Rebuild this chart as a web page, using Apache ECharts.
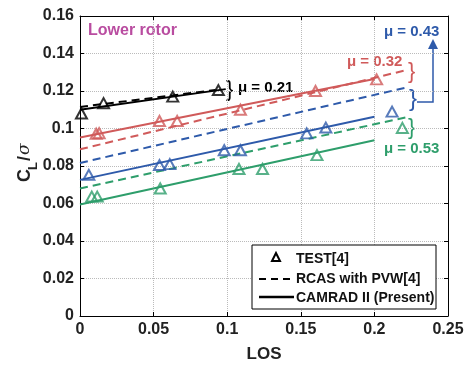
<!DOCTYPE html>
<html><head><meta charset="utf-8">
<script src="https://cdn.jsdelivr.net/npm/echarts@6/dist/echarts.min.js"></script>
<style>html,body{margin:0;padding:0;background:#fff}#c{width:467px;height:368px}</style>
</head><body><div id="c"></div>
<script>
// ---- data ----
const xTicks = [0, 0.05, 0.1, 0.15, 0.2, 0.25];
const yTicks = [0, 0.02, 0.04, 0.06, 0.08, 0.1, 0.12, 0.14, 0.16];

// mu = 0.21 (black)
const testK = [[0.001,0.108],[0.016,0.1135],[0.063,0.117],[0.094,0.1205]];
const rcasK = [[0,0.1115],[0.092,0.1205]];
const camK  = [[0,0.1100],[0.099,0.1210]];
// mu = 0.32 (red)
const testR = [[0.011,0.0972],[0.013,0.0975],[0.054,0.104],[0.066,0.104],[0.109,0.110],[0.160,0.120],[0.2015,0.1262]];
const rcasR = [[0,0.0889],[0.222,0.1312]];
const camR  = [[0,0.0952],[0.2,0.1264]];
// mu = 0.43 (blue)
const testB = [[0.006,0.0753],[0.054,0.0805],[0.061,0.0810],[0.098,0.0884],[0.109,0.0884],[0.154,0.0974],[0.167,0.1005],[0.212,0.1090]];
const rcasB = [[0,0.0816],[0.223,0.1221]];
const camB  = [[0,0.0726],[0.2,0.1063]];
// mu = 0.53 (green)
const testG = [[0.008,0.0637],[0.0117,0.0637],[0.0545,0.068],[0.108,0.0784],[0.124,0.0784],[0.161,0.0858],[0.219,0.1003]];
const rcasG = [[0,0.0680],[0.222,0.1060]];
const camG  = [[0,0.0595],[0.2,0.0937]];

const K = '#000000', R = '#d05a5a', B = '#2e5aaa', G = '#2e9e6b', M = '#b94ca0';
const FONT = 'Liberation Sans, Arial, sans-serif';

function lineS(name, data, color, dashed) {
  return { name, type: 'line', data, symbol: 'none', silent: true, z: 3,
    lineStyle: { color, width: 2, type: dashed ? [8, 5] : 'solid' } };
}
function testS(name, data, color) {
  return { name, type: 'scatter', data, symbol: 'triangle', symbolSize: [11, 10], z: 4,
    itemStyle: { color: 'rgba(255,255,255,0)', borderColor: color, borderWidth: 2 } };
}

const chart = echarts.init(document.getElementById('c'), null, { renderer: 'canvas' });
const axisCommon = {
  type: 'value',
  axisLine: { show: true, onZero: false, lineStyle: { color: '#000', width: 1 } },
  axisTick: { show: true, inside: true, length: 4, lineStyle: { color: '#000' } },
  splitLine: { show: false }
};
chart.setOption({
  animation: false,
  grid: { left: 80, right: 19, top: 16, bottom: 48, containLabel: false },
  xAxis: [
    Object.assign({}, axisCommon, { min: 0, max: 0.25, interval: 0.05, position: 'bottom',
      name: 'LOS', nameLocation: 'middle', nameGap: 30,
      nameTextStyle: { fontFamily: FONT, fontWeight: 'bold', fontSize: 17, color: '#222' },
      axisLabel: { fontFamily: FONT, fontWeight: 'bold', fontSize: 16, color: '#222', margin: 6,
        formatter: v => String(+v.toFixed(2)) },
      splitLine: { show: true, lineStyle: { color: '#bbbbbb', type: [1, 1], width: 1 } } }),
    Object.assign({}, axisCommon, { min: 0, max: 0.25, interval: 0.05, position: 'top',
      axisLabel: { show: false } })
  ],
  yAxis: [
    Object.assign({}, axisCommon, { min: 0, max: 0.16, interval: 0.02, position: 'left',
      axisLabel: { fontFamily: FONT, fontWeight: 'bold', fontSize: 16, color: '#222', margin: 6,
        formatter: v => String(+v.toFixed(2)) },
      splitLine: { show: true, lineStyle: { color: '#bbbbbb', type: [1, 1], width: 1 } } }),
    Object.assign({}, axisCommon, { min: 0, max: 0.16, interval: 0.02, position: 'right',
      axisLabel: { show: false } })
  ],
  series: [
    lineS('rcasG', rcasG, G, true), lineS('camG', camG, G, false), testS('testG', testG, G),
    lineS('rcasB', rcasB, B, true), lineS('camB', camB, B, false), testS('testB', testB, B),
    lineS('rcasR', rcasR, R, true), lineS('camR', camR, R, false), testS('testR', testR, R),
    lineS('RCAS with PVW[4]', rcasK, K, true), lineS('CAMRAD II (Present)', camK, K, false), testS('TEST[4]', testK, K)
  ],
  graphic: [
    // y-axis title C_L /sigma
    { type: 'text', x: 25, y: 182, rotation: Math.PI / 2,
      style: { text: 'C', fontFamily: FONT, fontWeight: 'bold', fontSize: 18, fill: '#222', textVerticalAlign: 'middle' } },
    { type: 'text', x: 33, y: 170, rotation: Math.PI / 2,
      style: { text: 'L', fontFamily: FONT, fontWeight: 'bold', fontSize: 13, fill: '#222', textVerticalAlign: 'middle' } },
    { type: 'text', x: 25, y: 161, rotation: Math.PI / 2,
      style: { text: '/', fontFamily: FONT, fontWeight: 'bold', fontSize: 18, fill: '#222', textVerticalAlign: 'middle' } },
    { type: 'text', x: 25, y: 155, rotation: Math.PI / 2,
      style: { text: 'σ', fontFamily: 'DejaVu Serif, serif', fontStyle: 'italic', fontSize: 17, fill: '#222', textVerticalAlign: 'middle' } },
    // annotations
    { type: 'text', x: 88, y: 31, style: { text: 'Lower rotor', fontFamily: FONT, fontWeight: 'bold', fontSize: 16, fill: M, textVerticalAlign: 'middle' } },
    { type: 'text', x: 226, y: 90, style: { text: '}', fontFamily: FONT, fontSize: 22, fill: K, textVerticalAlign: 'middle' } },
    { type: 'text', x: 238, y: 88, style: { text: 'μ = 0.21', fontFamily: FONT, fontWeight: 'bold', fontSize: 15, fill: K, textVerticalAlign: 'middle' } },
    { type: 'text', x: 347, y: 62, style: { text: 'μ = 0.32', fontFamily: FONT, fontWeight: 'bold', fontSize: 15, fill: R, textVerticalAlign: 'middle' } },
    { type: 'text', x: 408, y: 72, style: { text: '}', fontFamily: FONT, fontSize: 22, fill: R, textVerticalAlign: 'middle' } },
    { type: 'text', x: 384, y: 32, style: { text: 'μ = 0.43', fontFamily: FONT, fontWeight: 'bold', fontSize: 15, fill: B, textVerticalAlign: 'middle' } },
    { type: 'text', x: 409, y: 99, style: { text: '}', fontFamily: FONT, fontSize: 24, fill: B, textVerticalAlign: 'middle' } },
    { type: 'polyline', shape: { points: [[417, 102], [433, 102], [433, 47]] }, style: { stroke: B, lineWidth: 1.5, fill: null } },
    { type: 'polygon', shape: { points: [[433, 39], [428, 49], [438, 49]] }, style: { fill: B } },
    { type: 'text', x: 408, y: 128, style: { text: '}', fontFamily: FONT, fontSize: 22, fill: G, textVerticalAlign: 'middle' } },
    { type: 'text', x: 384, y: 149, style: { text: 'μ = 0.53', fontFamily: FONT, fontWeight: 'bold', fontSize: 15, fill: G, textVerticalAlign: 'middle' } },
    // legend
    { type: 'rect', z: 10, shape: { x: 252, y: 245, width: 184, height: 64 }, style: { fill: '#fff', stroke: '#000', lineWidth: 1 } },
    { type: 'polygon', z: 11, shape: { points: [[276, 253], [272, 261], [280, 261]] }, style: { fill: '#fff', stroke: '#000', lineWidth: 2 } },
    { type: 'line', z: 11, shape: { x1: 259, y1: 279, x2: 293, y2: 279 }, style: { stroke: '#000', lineWidth: 2, lineDash: [7, 5] } },
    { type: 'line', z: 11, shape: { x1: 259, y1: 297, x2: 294, y2: 297 }, style: { stroke: '#000', lineWidth: 2.5 } },
    { type: 'text', z: 11, x: 296, y: 259, style: { text: 'TEST[4]', fontFamily: FONT, fontWeight: 'bold', fontSize: 14, fill: '#111', textVerticalAlign: 'middle' } },
    { type: 'text', z: 11, x: 296, y: 279, style: { text: 'RCAS with PVW[4]', fontFamily: FONT, fontWeight: 'bold', fontSize: 14, fill: '#111', textVerticalAlign: 'middle' } },
    { type: 'text', z: 11, x: 296, y: 298, style: { text: 'CAMRAD II (Present)', fontFamily: FONT, fontWeight: 'bold', fontSize: 14, fill: '#111', textVerticalAlign: 'middle' } }
  ]
});
</script></body></html>
